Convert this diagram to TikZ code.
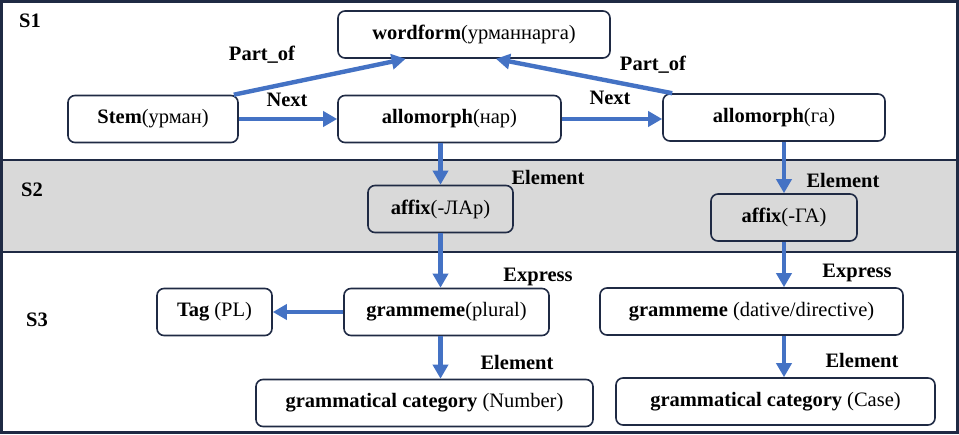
\documentclass[tikz,border=0pt]{standalone}
\usepackage{fontspec}
\setmainfont{Liberation Serif}
\usetikzlibrary{arrows.meta, calc}
\definecolor{frameNavy}{HTML}{1F2A44}
\definecolor{linkBlue}{HTML}{4472C4}
\definecolor{bandGray}{HTML}{D9D9D9}

\begin{document}
\begin{tikzpicture}[
    x=1pt, y=-1pt,
    ->, >={Triangle[length=14pt,width=15pt]},
    font=\fontsize{20.5}{23}\selectfont,
    unit/.style={draw=frameNavy, line width=1.6pt, rounded corners=7pt, minimum height=47pt, align=center, inner sep=0pt},
    rel/.style={font=\fontsize{20.5}{23}\selectfont\bfseries},
    every edge/.style={draw=linkBlue, line width=4.4pt}
]
    \useasboundingbox (0,0) rectangle (959,434);
    \fill[bandGray] (0,160) rectangle (959,252);
    \draw[-, frameNavy, line width=2pt] (0,160) -- (959,160) (0,252) -- (959,252);
    \draw[-, frameNavy, line width=3pt] (1.5,1.5) rectangle (957.5,432.5);

    \node[rel] (s1) at (30,21) {S1};
    \node[rel] (s2) at (32,190) {S2};
    \node[rel] (s3) at (37,320) {S3};

    \node[unit, minimum width=272pt] (wordform) at (474,34.5) {\textbf{wordform}(урманнарга)};
    \node[unit, minimum width=170pt] (stem) at (153,119) {\textbf{Stem}(урман)};
    \node[unit, minimum width=223pt] (nar) at (449.5,119) {\textbf{allomorph}(нар)};
    \node[unit, minimum width=222pt] (ga) at (774,117.5) {\textbf{allomorph}(га)};
    \node[unit, minimum width=145pt] (lar) at (440.5,209) {\textbf{affix}(-ЛАр)};
    \node[unit, minimum width=146pt] (gaaffix) at (784,217.5) {\textbf{affix}(-ГА)};
    \node[unit, minimum width=115pt] (tag) at (214.5,312) {\textbf{Tag} (PL)};
    \node[unit, minimum width=205pt] (plural) at (446.5,312) {\textbf{grammeme}(plural)};
    \node[unit, minimum width=303pt] (dative) at (751.5,311.5) {\textbf{grammeme} (dative/directive)};
    \node[unit, minimum width=337pt] (number) at (424.5,403) {\textbf{grammatical category} (Number)};
    \node[unit, minimum width=319pt] (case) at (775.5,401.5) {\textbf{grammatical category} (Case)};

    \path (stem.east) edge (nar.west)
          (nar.east) edge (nar.east -| ga.west)
          ([xshift=-5pt]stem.north east) edge ($(wordform.south west)!0.25!(wordform.south east)$)
          ([xshift=10pt]ga.north west) edge ($(wordform.south west)!0.58!(wordform.south east)$)
          (nar.south -| lar) edge (lar.north)
          (ga.south -| gaaffix) edge (gaaffix.north)
          (lar.south) edge (lar.south |- plural.north)
          (gaaffix.south) edge (gaaffix.south |- dative.north)
          (plural.west) edge (tag.east)
          (plural.south -| lar) edge (number.north -| lar)
          (dative.south -| gaaffix) edge (case.north -| gaaffix);

    \node[rel] (partofL) at (262,55) {Part\_of};
    \node[rel] (nextL) at (287,100) {Next};
    \node[rel] (partofR) at (653,65) {Part\_of};
    \node[rel] (nextR) at (610,98) {Next};
    \node[rel] (elemLar) at (548,177) {Element};
    \node[rel] (elemGa) at (843,180) {Element};
    \node[rel] (exprPlural) at (538,277) {Express};
    \node[rel] (exprDative) at (857,273) {Express};
    \node[rel] (elemNumber) at (517,362) {Element};
    \node[rel] (elemCase) at (862,360) {Element};
\end{tikzpicture}
\end{document}
